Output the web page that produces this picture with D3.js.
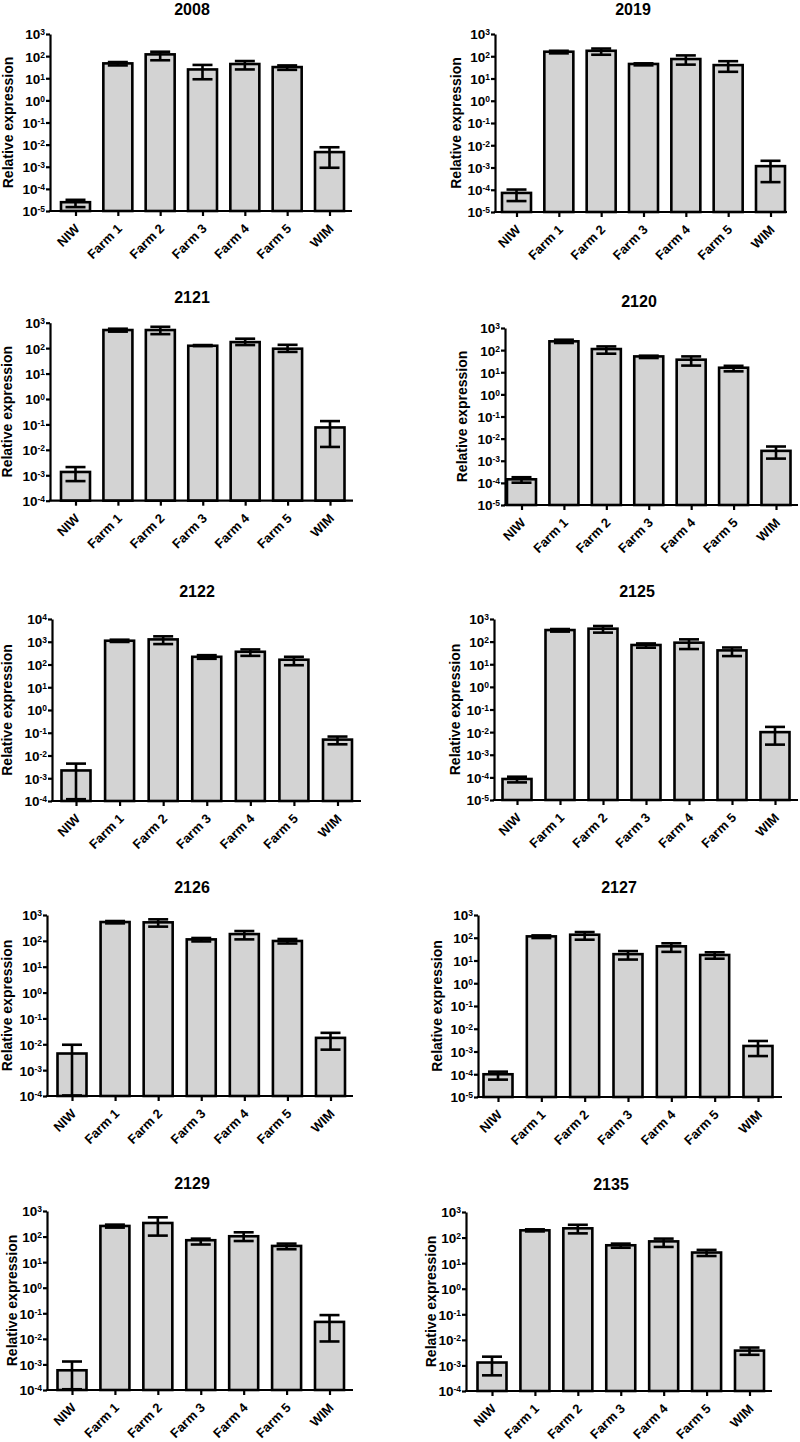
<!DOCTYPE html>
<html><head><meta charset="utf-8">
<script src="https://cdn.jsdelivr.net/npm/d3@7"></script>
<style>
body{margin:0;background:#fff}
svg{display:block}
text{font-family:"Liberation Sans",Arial,sans-serif;font-weight:bold;fill:#000}
</style>
</head><body>
<svg id="chart" width="800" height="1442"></svg>
<script>
// ---------------- data ----------------
const categories = ["NIW","Farm 1","Farm 2","Farm 3","Farm 4","Farm 5","WIM"];
const titles = ["2008","2019","2121","2120","2122","2125","2126","2127","2129","2135"];
const yExpMin = [-5,-5,-4,-5,-4,-5,-4,-5,-4,-4];
const yExpMax = [3,3,3,3,4,3,3,3,3,3];
const meanValues = [
  [2.5e-5, 47, 120, 25, 44, 32, 4.6e-3],
  [7.2e-5, 160, 176, 45, 75, 40, 1.15e-3],
  [1.35e-3, 515, 515, 124, 173, 95, 0.076],
  [1.45e-4, 250, 112, 52, 37, 16, 2.8e-3],
  [2.2e-3, 1110, 1270, 218, 363, 162, 0.05],
  [8.5e-5, 325, 373, 71, 90, 41, 0.01],
  [4.4e-3, 535, 520, 114, 183, 99, 0.0177],
  [1.0e-4, 115, 136, 19, 42, 17.5, 1.75e-3],
  [5.9e-4, 260, 340, 72, 103, 43, 0.046],
  [1.3e-3, 192, 230, 50, 71, 26, 3.8e-3]
];
const upperValues = [
  [3.2e-5, 54, 158, 40, 60, 38, 7.6e-3],
  [1.02e-4, 176, 222, 48, 109, 60, 2e-3],
  [2.1e-3, 580, 690, 132, 235, 135, 0.135],
  [1.8e-4, 295, 147, 56, 52, 19.5, 4.4e-3],
  [4.4e-3, 1230, 1730, 257, 460, 218, 0.068],
  [1.07e-4, 360, 490, 83, 126, 55, 0.017],
  [9.6e-3, 585, 680, 129, 240, 118, 0.0277],
  [1.3e-4, 127, 178, 26, 57, 23, 2.9e-3],
  [1.3e-3, 293, 565, 83, 147, 53, 0.085],
  [2.2e-3, 210, 316, 58, 91, 33, 5e-3]
];
const lowerValues = [
  [1.5e-5, 38, 65, 9, 25, 24, 9e-4],
  [3.1e-5, 135, 117, 39, 42, 20, 2.2e-4],
  [5.9e-4, 445, 355, 120, 132, 71, 0.013],
  [1.02e-4, 210, 69, 44, 20, 11, 1.25e-3],
  [1.2e-4, 980, 790, 178, 240, 93, 0.031],
  [6e-5, 277, 250, 54, 47, 23, 2.8e-3],
  [1.05e-4, 475, 355, 95, 114, 79, 6.2e-3],
  [5.8e-5, 97, 82, 11, 24, 12, 6.3e-4],
  [1.07e-4, 224, 109, 49, 67, 32, 7.9e-3],
  [4.1e-4, 174, 146, 40, 43, 19, 2.6e-3]
];
const yTitle = "Relative expression";

// ---------------- layout (pixels) ----------------
const layout = [
  {ax:50,  ar:352, yt:34,    yb:211,   c0:75.5, c6:329.5, tx:192, ty:14.5, lx:8},
  {ax:495, ar:787, yt:34,    yb:212,   c0:516.5,c6:770.5, tx:633, ty:14.5, lx:456},
  {ax:50,  ar:353, yt:322.7, yb:500.7, c0:75.5, c6:330,   tx:192, ty:302.7,lx:7.5},
  {ax:505, ar:798, yt:328,   yb:505,   c0:521.5,c6:776,   tx:639, ty:306.7,lx:461.7},
  {ax:52,  ar:361, yt:619,   yb:801,   c0:76,   c6:337.5, tx:197, ty:597,  lx:7.5},
  {ax:494, ar:798, yt:619,   yb:800,   c0:517,  c6:775,   tx:637, ty:596.7,lx:455.5},
  {ax:47,  ar:353, yt:915,   yb:1096,  c0:72,   c6:330.5, tx:192, ty:893,  lx:7.5},
  {ax:478, ar:782, yt:915,   yb:1097,  c0:498,  c6:758,   tx:619, ty:893,  lx:437},
  {ax:47,  ar:353, yt:1211,  yb:1390,  c0:72,   c6:329.5, tx:192, ty:1189, lx:11.7},
  {ax:466, ar:772, yt:1212,  yb:1391,  c0:492,  c6:749.5, tx:611, ty:1190, lx:431}
];
const barW = 29, capW = 20, lineW = 2.6, axisW = 2.2;

const svg = d3.select("#chart");

titles.forEach((title, i) => {
  const L = layout[i];
  const g = svg.append("g");
  const y = d3.scaleLog().domain([Math.pow(10, yExpMin[i]), Math.pow(10, yExpMax[i])]).range([L.yb, L.yt]);
  const x = d3.scalePoint().domain(categories).range([L.c0, L.c6]);
  const tickVals = d3.range(yExpMin[i], yExpMax[i] + 1).map(e => Math.pow(10, e));

  // title
  g.append("text").attr("x", L.tx).attr("y", L.ty).attr("text-anchor", "middle")
    .style("font-size", "16px").text(title);

  // y-axis title
  g.append("text").attr("transform", `translate(${L.lx},${(L.yt + L.yb) / 2}) rotate(-90)`)
    .attr("text-anchor", "middle").attr("dy", "0.35em").style("font-size", "14px").text(yTitle);

  // bars
  const rows = categories.map((c, j) => ({c, m: meanValues[i][j], hi: upperValues[i][j], lo: lowerValues[i][j]}));
  g.selectAll("rect.bar").data(rows).enter().append("rect").attr("class", "bar")
    .attr("x", d => x(d.c) - barW / 2).attr("width", barW)
    .attr("y", d => y(d.m)).attr("height", d => L.yb - y(d.m))
    .attr("fill", "#d3d3d3").attr("stroke", "#000").attr("stroke-width", lineW);

  // error bars
  const eb = g.selectAll("g.eb").data(rows).enter().append("g").attr("class", "eb")
    .attr("stroke", "#000").attr("stroke-width", lineW);
  eb.append("line").attr("x1", d => x(d.c)).attr("x2", d => x(d.c)).attr("y1", d => y(d.lo)).attr("y2", d => y(d.hi));
  eb.append("line").attr("x1", d => x(d.c) - capW / 2).attr("x2", d => x(d.c) + capW / 2).attr("y1", d => y(d.hi)).attr("y2", d => y(d.hi));
  eb.append("line").attr("x1", d => x(d.c) - capW / 2).attr("x2", d => x(d.c) + capW / 2).attr("y1", d => y(d.lo)).attr("y2", d => y(d.lo));

  // y axis
  const ya = g.append("g").attr("transform", `translate(${L.ax},0)`)
    .call(d3.axisLeft(y).tickValues(tickVals).tickSize(4).tickSizeOuter(0).tickFormat(""));
  ya.select(".domain").attr("stroke-width", axisW);
  ya.selectAll(".tick line").attr("stroke-width", axisW);
  ya.selectAll(".tick text").remove();
  ya.selectAll(".tick").each(function(v) {
    const t = d3.select(this).append("text").attr("x", -5).attr("dy", "0.36em")
      .attr("text-anchor", "end").style("font-size", "13.5px");
    t.append("tspan").text("10");
    t.append("tspan").attr("dy", "-4px").style("font-size", "8.5px").text(Math.round(Math.log10(v)));
  });

  // x axis
  const xa = g.append("g").attr("transform", `translate(0,${L.yb})`)
    .call(d3.axisBottom(x).tickSize(5).tickSizeOuter(0));
  xa.select(".domain").remove();
  xa.selectAll(".tick line").attr("stroke-width", axisW);
  xa.selectAll(".tick text").attr("x", 0).attr("y", 0).attr("dy", 0)
    .attr("transform", "translate(4.5,18.5) rotate(-45)")
    .attr("text-anchor", "end").style("font-size", "13px");
  g.append("line").attr("x1", L.ax - axisW / 2).attr("x2", L.ar).attr("y1", L.yb).attr("y2", L.yb)
    .attr("stroke", "#000").attr("stroke-width", axisW);
});
</script>
</body></html>
